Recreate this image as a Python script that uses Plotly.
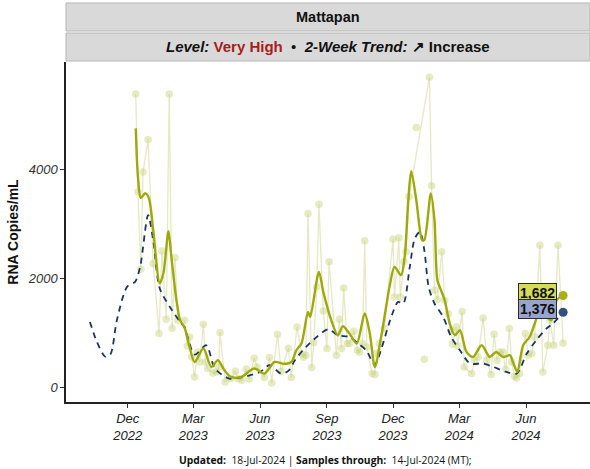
import plotly.graph_objects as go

# ---------------- data ----------------
sample_dates = [
    "2022-12-12", "2022-12-15", "2022-12-19", "2022-12-22", "2022-12-29", "2023-01-05", "2023-01-13",
    "2023-01-17", "2023-01-23", "2023-01-27", "2023-01-31", "2023-02-04", "2023-02-08", "2023-02-17",
    "2023-02-21", "2023-02-24", "2023-02-27", "2023-03-03", "2023-03-07", "2023-03-10", "2023-03-15",
    "2023-03-18", "2023-03-21", "2023-03-28", "2023-04-02", "2023-04-05", "2023-04-07", "2023-04-14",
    "2023-04-22", "2023-04-28", "2023-05-02", "2023-05-07", "2023-05-13", "2023-05-17", "2023-05-24",
    "2023-05-28", "2023-06-07", "2023-06-14", "2023-06-17", "2023-06-25", "2023-06-30", "2023-07-10",
    "2023-07-14", "2023-07-22", "2023-07-28", "2023-07-31", "2023-08-03", "2023-08-06", "2023-08-11",
    "2023-08-14", "2023-08-18", "2023-08-21", "2023-08-27", "2023-09-01", "2023-09-04", "2023-09-14",
    "2023-09-18", "2023-09-21", "2023-09-24", "2023-09-29", "2023-10-02", "2023-10-08", "2023-10-13",
    "2023-10-16", "2023-10-20", "2023-10-23", "2023-10-26", "2023-11-02", "2023-11-06", "2023-11-08",
    "2023-11-12", "2023-11-19", "2023-12-01", "2023-12-03", "2023-12-09", "2023-12-11", "2023-12-16",
    "2023-12-19", "2023-12-23", "2024-01-20", "2024-01-23", "2024-01-27", "2024-01-31", "2024-02-06",
    "2024-02-10", "2024-02-15", "2024-02-19", "2024-02-21", "2024-02-26", "2024-02-28", "2024-03-05",
    "2024-03-08", "2024-03-18", "2024-03-22", "2024-03-27", "2024-04-03", "2024-04-08", "2024-04-14",
    "2024-04-18", "2024-04-22", "2024-04-26", "2024-04-30", "2024-05-04", "2024-05-09", "2024-05-12",
    "2024-05-16", "2024-05-19", "2024-05-23", "2024-05-31", "2024-06-04", "2024-06-09", "2024-06-13",
    "2024-06-20", "2024-06-24", "2024-07-01", "2024-07-04", "2024-07-09", "2024-07-15", "2024-07-22",
]
sample_values = [
    5377, 3584, 2165, 3945, 4545, 2270, 985,
    2500, 1248, 5377, 1083, 2380, 1230, 1230,
    758, 923, 556, 189, 648, 464, 1156,
    464, 343, 262, 281, 372, 1003, 97,
    159, 294, 156, 128, 336, 146, 532,
    373, 178, 545, 79, 967, 287, 716,
    178, 1107, 618, 550, 587, 3187, 361,
    820, 1840, 3358, 1400, 710, 2300, 587,
    1248, 710, 1822, 802, 802, 1028, 679,
    642, 802, 2685, 740, 251, 233, 618,
    802, 1077, 2716, 1657, 2740, 1657, 2300,
    2483, 3492, 5683, 3694, 1780, 1610, 2483,
    1597, 1352, 1046, 789, 1107, 758, 1390,
    370, 251, 495, 556, 1272, 495, 233,
    973, 495, 648, 648, 330, 1077, 464,
    202, 170, 251, 985, 587, 620, 923,
    2606, 281, 770, 1230, 770, 2606, 813,
]
# isolated samples (not joined to the sample line)
isolated_dates = ["2024-01-02", "2024-01-13"]
isolated_values = [4765, 514]

trend_dates = [
    "2022-12-12", "2022-12-15", "2022-12-19", "2022-12-25", "2022-12-30", "2023-01-05", "2023-01-14",
    "2023-01-19", "2023-01-26", "2023-01-30", "2023-02-06", "2023-02-11", "2023-02-17", "2023-02-24",
    "2023-03-03", "2023-03-15", "2023-03-26", "2023-04-04", "2023-04-13", "2023-04-22", "2023-05-06",
    "2023-05-24", "2023-06-07", "2023-06-21", "2023-07-04", "2023-07-14", "2023-07-21", "2023-07-28",
    "2023-08-06", "2023-08-09", "2023-08-21", "2023-08-27", "2023-09-07", "2023-09-16", "2023-09-23",
    "2023-10-02", "2023-10-12", "2023-10-23", "2023-10-30", "2023-11-06", "2023-11-15", "2023-11-27",
    "2023-12-03", "2023-12-12", "2023-12-17", "2023-12-22", "2023-12-26", "2024-01-02", "2024-01-10",
    "2024-01-13", "2024-01-22", "2024-01-27", "2024-01-31", "2024-02-05", "2024-02-10", "2024-02-17",
    "2024-02-24", "2024-03-02", "2024-03-11", "2024-03-20", "2024-04-01", "2024-04-12", "2024-04-21",
    "2024-04-30", "2024-05-10", "2024-05-14", "2024-05-20", "2024-05-28", "2024-06-06", "2024-06-13",
    "2024-06-20", "2024-06-29", "2024-07-06", "2024-07-13", "2024-07-22",
]
trend_values = [
    4747, 3860, 3470, 3560, 3470, 2880, 1908,
    2090, 2860, 2390, 1596, 1230, 1100, 740,
    464, 710, 373, 495, 312, 189, 189,
    343, 251, 464, 430, 464, 679, 802,
    1382, 1290, 2116, 1749, 1230, 954, 1119,
    985, 802, 1352, 985, 373, 954, 1903,
    2207, 2055, 2390, 3431, 3964, 3431, 2697,
    2697, 3553, 3064, 1963, 1780, 1597, 1169,
    954, 1046, 648, 556, 770, 556, 648,
    556, 587, 464, 281, 770, 923, 1169,
    1413, 1290, 1230, 1596, 1682,
]

region_dates = [
    "2022-10-10", "2022-10-19", "2022-10-31", "2022-11-07", "2022-11-16", "2022-11-30", "2022-12-11",
    "2022-12-18", "2022-12-29", "2023-01-05", "2023-01-14", "2023-01-28", "2023-02-11", "2023-02-17",
    "2023-03-03", "2023-03-19", "2023-03-31", "2023-04-20", "2023-05-09", "2023-06-01", "2023-06-14",
    "2023-06-30", "2023-07-10", "2023-07-19", "2023-07-30", "2023-08-18", "2023-09-03", "2023-09-16",
    "2023-10-02", "2023-10-13", "2023-10-25", "2023-11-06", "2023-11-15", "2023-11-27", "2023-12-08",
    "2023-12-15", "2023-12-24", "2023-12-31", "2024-01-07", "2024-01-13", "2024-01-19", "2024-01-27",
    "2024-02-08", "2024-02-19", "2024-03-02", "2024-03-16", "2024-04-03", "2024-04-17", "2024-05-05",
    "2024-05-19", "2024-06-02", "2024-06-15", "2024-06-29", "2024-07-08", "2024-07-22",
]
region_values = [
    1198, 850, 560, 600, 1230, 1840, 1932,
    2207, 3156, 2697, 1811, 1473, 1198, 1100,
    600, 770, 343, 159, 189, 281, 404,
    251, 300, 495, 679, 923, 1064, 954,
    923, 813, 679, 416, 710, 1230, 1565,
    1535, 2207, 2729, 2850, 2514, 1840, 1536,
    1290, 923, 679, 435, 435, 373, 281,
    251, 618, 862, 1077, 1169, 1376,
]

latest_date = "2024-07-22"
latest_local = 1682
latest_region = 1376

title_name = "Mattapan"
level_text = "Very High"
trend_text = "Increase"
y_ticks = [0, 2000, 4000]
footer = ("<b>Updated:</b>&nbsp; 18-Jul-2024 | "
          "<b>Samples through:</b>&nbsp; 14-Jul-2024 (MT);")

# ---------------- colours ----------------
GREEN = "#9eaa0b"
GREEN_LIGHT = "rgba(200,210,120,0.45)"
GREEN_LINE_LIGHT = "rgba(205,212,140,0.5)"
NAVY = "#1d3466"
BLUE_DOT = "#34507f"

fig = go.Figure()

fig.add_trace(go.Scatter(
    x=sample_dates, y=sample_values, mode="lines+markers",
    line=dict(color=GREEN_LINE_LIGHT, width=1.3),
    marker=dict(color=GREEN_LIGHT, size=7.5),
    hoverinfo="skip", showlegend=False))
fig.add_trace(go.Scatter(
    x=isolated_dates, y=isolated_values, mode="markers",
    marker=dict(color=GREEN_LIGHT, size=7.5),
    hoverinfo="skip", showlegend=False))
fig.add_trace(go.Scatter(
    x=region_dates, y=region_values, mode="lines",
    line=dict(color=NAVY, width=1.8, dash="6px,5px", shape="spline", smoothing=0.8),
    showlegend=False))
fig.add_trace(go.Scatter(
    x=trend_dates, y=trend_values, mode="lines",
    line=dict(color=GREEN, width=2.4, shape="spline", smoothing=0.8),
    showlegend=False))
fig.add_trace(go.Scatter(
    x=[latest_date], y=[latest_local], mode="markers",
    marker=dict(color="#a8b012", size=9), showlegend=False))
fig.add_trace(go.Scatter(
    x=[latest_date], y=[latest_region], mode="markers",
    marker=dict(color=BLUE_DOT, size=9), showlegend=False))

# value labels
for val, bg in [(latest_local, "#d5dc5c"), (latest_region, "#97a4d1")]:
    fig.add_annotation(
        x=latest_date, y=val, xref="x", yref="y", text=f"<b>{val:,}</b>",
        showarrow=False, xanchor="right", yanchor="middle", xshift=-6, yshift=3,
        bgcolor=bg, bordercolor="#2b2b2b", borderwidth=1, borderpad=1,
        font=dict(family="Liberation Sans, Arial", size=14, color="#111"))

# facet strips
strip_style = dict(type="rect", xref="paper", yref="paper", x0=0, x1=1,
                   fillcolor="#d9d9d9", line=dict(color="#b5b5b5", width=1), layer="above")
fig.add_shape(y0=1.0912, y1=1.1735, **strip_style)
fig.add_shape(y0=1.003, y1=1.0853, **strip_style)

fig.add_annotation(xref="paper", yref="paper", x=0.5, y=1.1324, yanchor="middle",
                   text=f"<b>{title_name}</b>",
                   showarrow=False, font=dict(family="Liberation Sans, Arial", size=14.5, color="#111"))
fig.add_annotation(
    xref="paper", yref="paper", x=0.5, y=1.0442, yanchor="middle",
    text=(f"<b><i>Level:</i></b> <b><span style='color:#a81c1c'>{level_text}</span></b>"
          f"  •  <b><i>2-Week Trend:</i></b> <b>↗ {trend_text}</b>"),
    showarrow=False, font=dict(family="Liberation Sans, Arial", size=15, color="#111"))

fig.add_annotation(xref="paper", yref="paper", x=0.495, y=-0.171, yanchor="middle",
                   text=footer, showarrow=False,
                   font=dict(family="Open Sans, DejaVu Sans", size=10.3, color="#111"))

fig.update_layout(
    width=590, height=469,
    margin=dict(l=66, r=0, t=62, b=67, autoexpand=False),
    paper_bgcolor="white", plot_bgcolor="white",
    font=dict(family="Liberation Sans, Arial"),
    xaxis=dict(
        type="date", range=["2022-09-07", "2024-08-28"], automargin=False,
        tick0="2022-12-01", dtick="M3", tickformat="%b<br>%Y",
        showgrid=False, zeroline=False,
        showline=True, linecolor="#222", linewidth=1.5,
        ticks="outside", ticklen=4, tickcolor="#333",
        tickfont=dict(family="Liberation Sans, Arial", size=13, color="#222", style="italic"),
    ),
    yaxis=dict(
        range=[-270, 5964], tickvals=y_ticks, ticktext=[str(v) for v in y_ticks],
        automargin=False,
        showgrid=False, zeroline=False,
        showline=True, linecolor="#222", linewidth=1.5,
        ticks="outside", ticklen=4, tickcolor="#333",
        tickfont=dict(family="Liberation Sans, Arial", size=13, color="#333", style="italic"),
        title=dict(text="<b>RNA Copies/mL</b>", standoff=6,
                   font=dict(family="Liberation Sans, Arial", size=14, color="#111")),
    ),
)

fig.write_html("out.html", config={"displayModeBar": False},
               post_script="document.body.style.margin='0';document.body.style.padding='0';")
